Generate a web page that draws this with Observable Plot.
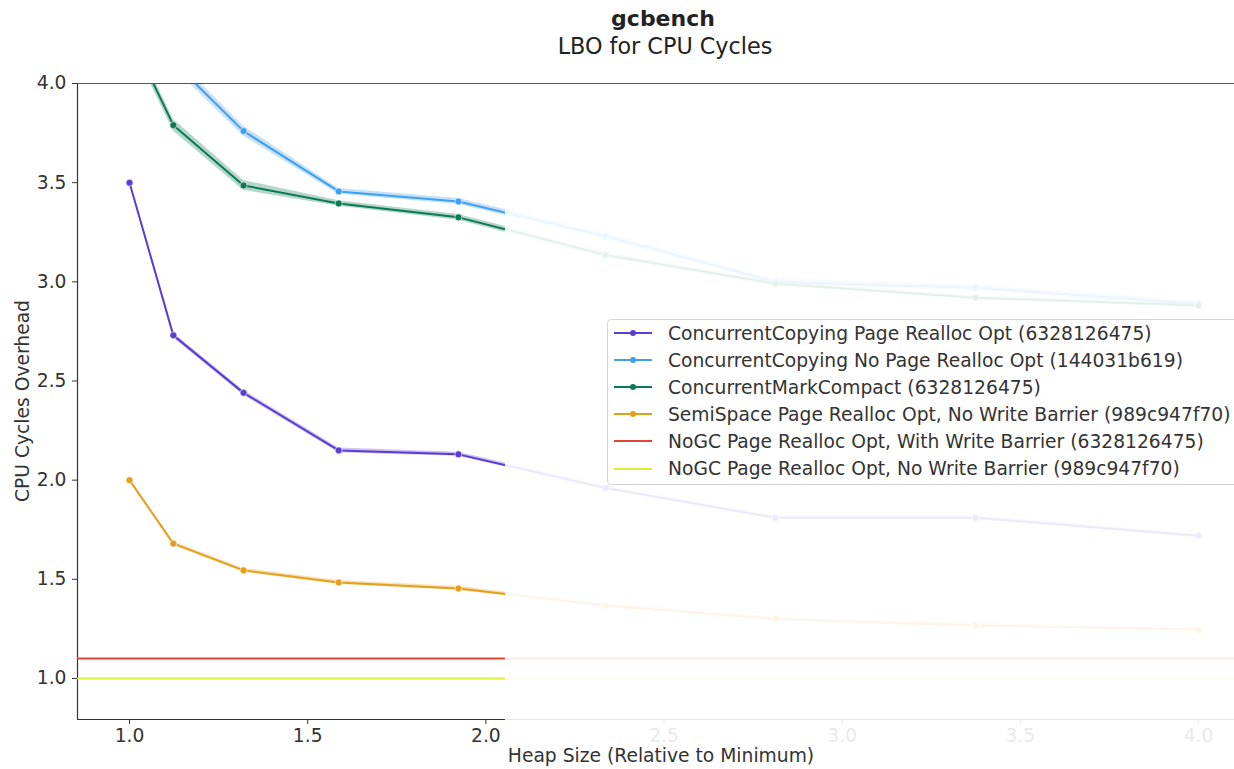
<!DOCTYPE html>
<html>
<head>
<meta charset="utf-8">
<script src="https://cdn.jsdelivr.net/npm/d3@7"></script>
<script src="https://cdn.jsdelivr.net/npm/@observablehq/plot@0.6"></script>
<style>
  html, body { margin: 0; padding: 0; background: #fff; }
  body { font-family: "DejaVu Sans", sans-serif; color: #333; }
  #wrap { position: relative; width: 1234px; height: 769px; overflow: hidden; }
  .abs { position: absolute; white-space: nowrap; }
  #legend { position: absolute; left: 607px; top: 319px; width: 660px; height: 166px;
            border: 1px solid #d6d6d6; border-radius: 4px; background: rgba(255,255,255,0.9); box-sizing: border-box; }
  .item { position: absolute; left: 0; height: 27px; display: flex; align-items: center; font-size: 18.7px; color: #333; }
  .item svg { margin-left: 6px; margin-right: 16px; }
</style>
</head>
<body>
<div id="wrap"></div>
<script>
// ---------- data ----------
const heapSizes = [1.0, 1.123, 1.32, 1.587, 1.923, 2.336, 2.813, 3.374, 4.0];

const seriesNames = [
  "ConcurrentCopying Page Realloc Opt (6328126475)",
  "ConcurrentCopying No Page Realloc Opt (144031b619)",
  "ConcurrentMarkCompact (6328126475)",
  "SemiSpace Page Realloc Opt, No Write Barrier (989c947f70)",
  "NoGC Page Realloc Opt, With Write Barrier (6328126475)",
  "NoGC Page Realloc Opt, No Write Barrier (989c947f70)"
];
const seriesColors = ["#5b3dd6", "#3f9ff0", "#0b7a52", "#e4a01a", "#e3443a", "#d8ee3a"];

const ccPageValues   = [3.50, 2.73, 2.44, 2.15, 2.13, 1.96, 1.81, 1.81, 1.72];
const ccNoPageValues = [4.60, 4.11, 3.76, 3.456, 3.405, 3.23, 3.00, 2.97, 2.89];
const cmcValues      = [4.25, 3.79, 3.486, 3.395, 3.325, 3.135, 2.99, 2.92, 2.88];
const semiValues     = [2.00, 1.68, 1.545, 1.484, 1.454, 1.368, 1.30, 1.267, 1.247];
const nogcWBValue    = 1.1;
const nogcNoWBValue  = 1.0;

const ccPageCI   = [0.005, 0.012, 0.012, 0.012, 0.01, 0.01, 0.01, 0.01, 0.01];
const ccNoPageCI = [0.03, 0.03, 0.025, 0.015, 0.015, 0.015, 0.015, 0.015, 0.015];
const cmcCI      = [0.03, 0.03, 0.025, 0.014, 0.015, 0.015, 0.01, 0.01, 0.01];
const semiCI     = [0.005, 0.01, 0.01, 0.01, 0.01, 0.01, 0.01, 0.01, 0.01];

const xTicks = [1.0, 1.5, 2.0, 2.5, 3.0, 3.5, 4.0];
const yTicks = [1.0, 1.5, 2.0, 2.5, 3.0, 3.5, 4.0];

const xDomain = [0.854, 4.101];
const yDomain = [0.793, 4.0];
const fadeStart = 2.055;

// ---------- build table ----------
const lineSeries = [
  {values: ccPageValues, ci: ccPageCI, idx: 0},
  {values: ccNoPageValues, ci: ccNoPageCI, idx: 1},
  {values: cmcValues, ci: cmcCI, idx: 2},
  {values: semiValues, ci: semiCI, idx: 3}
];
const rows = lineSeries.flatMap(s => heapSizes.map((h, i) => ({
  series: seriesNames[s.idx], color: seriesColors[s.idx],
  x: h, y: s.values[i], lo: s.values[i] - s.ci[i], hi: s.values[i] + s.ci[i]
})));

const textColor = "#333";

const marks = [
  Plot.axisY({ticks: yTicks, tickFormat: d3.format(".1f"), tickSize: 5, tickPadding: 6, fontSize: 18.7, label: null, color: textColor}),
  Plot.axisX({ticks: xTicks, tickFormat: d3.format(".1f"), tickSize: 5, tickPadding: 4, fontSize: 18.7, label: null, color: textColor}),
  Plot.ruleX([xDomain[0]], {stroke: textColor, strokeWidth: 1.2}),
  Plot.ruleY([yDomain[0]], {stroke: textColor, strokeWidth: 1.2}),
  Plot.ruleY([nogcWBValue], {stroke: seriesColors[4], strokeWidth: 2}),
  Plot.ruleY([nogcNoWBValue], {stroke: seriesColors[5], strokeWidth: 2}),
  Plot.areaY(rows, {x: "x", y1: "lo", y2: "hi", z: "series", fill: "color", fillOpacity: 0.3, clip: true}),
  Plot.lineY(rows, {x: "x", y: "y", z: "series", stroke: "color", strokeWidth: 2, clip: true}),
  Plot.dot(rows, {x: "x", y: "y", fill: "color", r: 3.5, stroke: "white", strokeWidth: 0.6, clip: true}),
  // fade overlay over the right part
  Plot.rect([{}], {x1: fadeStart, x2: xDomain[1], y1: 0.655, y2: 3.994, fill: "white", fillOpacity: 0.89, clip: false}),
  Plot.ruleY([yDomain[1]], {stroke: "#555", strokeWidth: 1.2})
];

const chart = Plot.plot({
  width: 1234,
  height: 769,
  marginLeft: 77,
  marginRight: 0,
  marginTop: 83,
  marginBottom: 50,
  style: {fontFamily: "DejaVu Sans, sans-serif", fontSize: "18.7px", color: textColor, background: "white", overflow: "visible"},
  x: {domain: xDomain},
  y: {domain: yDomain},
  marks
});

const wrap = document.getElementById("wrap");
chart.style.position = "absolute";
chart.style.left = "0px";
chart.style.top = "0px";
wrap.appendChild(chart);

function addText(txt, css) {
  const d = document.createElement("div");
  d.className = "abs";
  d.textContent = txt;
  Object.assign(d.style, css);
  wrap.appendChild(d);
  return d;
}
addText("gcbench", {left: "663px", top: "6px", transform: "translateX(-50%)", fontSize: "22px", fontWeight: "bold", color: "#222"});
addText("LBO for CPU Cycles", {left: "665px", top: "33px", transform: "translateX(-50%)", fontSize: "22.3px", color: "#222"});
addText("Heap Size (Relative to Minimum)", {left: "661px", top: "745px", transform: "translateX(-50%)", fontSize: "18.7px", color: textColor});
addText("CPU Cycles Overhead", {left: "22px", top: "401px", transform: "translate(-50%,-50%) rotate(-90deg)", fontSize: "18.7px", color: textColor});

// legend
const legend = document.createElement("div");
legend.id = "legend";
seriesNames.forEach((name, i) => {
  const item = document.createElement("div");
  item.className = "item";
  item.style.top = (13 + i * 27.1 - 13.5) + "px";
  const withDot = i < 4;
  item.innerHTML = `<svg width="38" height="10"><line x1="0" y1="5" x2="38" y2="5" stroke="${seriesColors[i]}" stroke-width="2"/>${withDot ? `<circle cx="19" cy="5" r="3" fill="${seriesColors[i]}"/>` : ""}</svg><span>${name}</span>`;
  legend.appendChild(item);
});
wrap.appendChild(legend);
</script>
</body>
</html>
